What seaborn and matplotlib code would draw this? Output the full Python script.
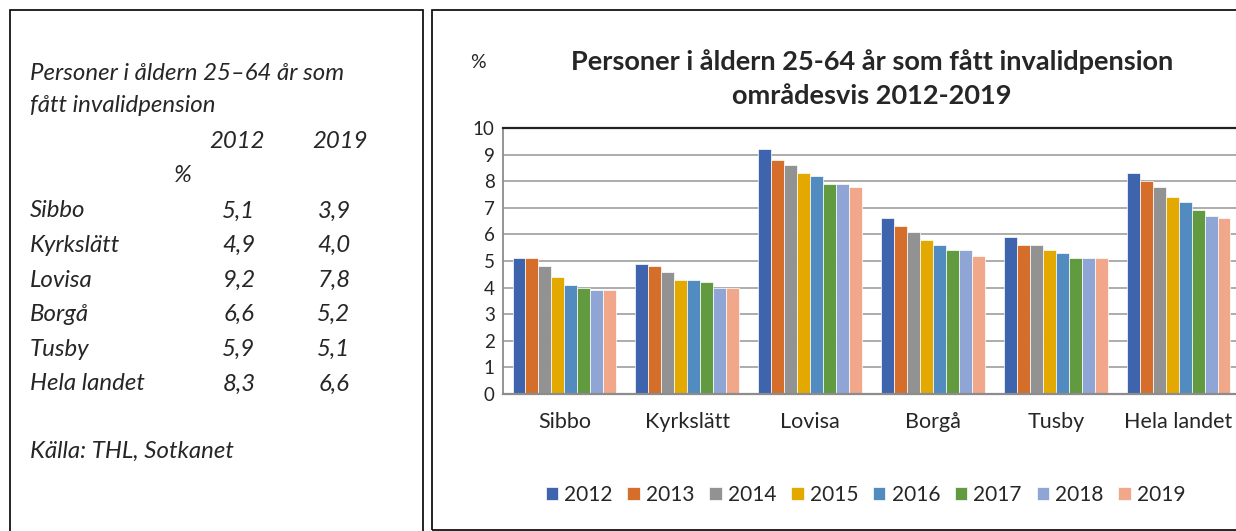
import numpy as np
import pandas as pd
import matplotlib
matplotlib.use("Agg")
import matplotlib.pyplot as plt
import seaborn as sns
from matplotlib.patches import Rectangle

# data
areas = ["Sibbo", "Kyrkslätt", "Lovisa", "Borgå", "Tusby", "Hela landet"]
years = ["2012", "2013", "2014", "2015", "2016", "2017", "2018", "2019"]
sibbo = [5.1, 5.1, 4.8, 4.4, 4.1, 4.0, 3.9, 3.9]
kyrkslatt = [4.9, 4.8, 4.6, 4.3, 4.3, 4.2, 4.0, 4.0]
lovisa = [9.2, 8.8, 8.6, 8.3, 8.2, 7.9, 7.9, 7.8]
borga = [6.6, 6.3, 6.1, 5.8, 5.6, 5.4, 5.4, 5.2]
tusby = [5.9, 5.6, 5.6, 5.4, 5.3, 5.1, 5.1, 5.1]
hela = [8.3, 8.0, 7.8, 7.4, 7.2, 6.9, 6.7, 6.6]
colors = ["#3E64AD", "#D46E2A", "#929292", "#E3A900", "#518BC0", "#629A40", "#8FA5D6", "#F0A78A"]

# table on the left (2012 and 2019 values)
tab_2012 = ["5,1", "4,9", "9,2", "6,6", "5,9", "8,3"]
tab_2019 = ["3,9", "4,0", "7,8", "5,2", "5,1", "6,6"]

rows = []
for area, vals in zip(areas, [sibbo, kyrkslatt, lovisa, borga, tusby, hela]):
    for y, v in zip(years, vals):
        rows.append({"area": area, "year": y, "value": v})
df = pd.DataFrame(rows)

sns.set_style("white")
plt.rcParams["font.family"] = ["Lato", "DejaVu Sans"]

W, H = 1236, 531
fig = plt.figure(figsize=(W / 100, H / 100), dpi=100)

# frames around the two panels
fig.patches.append(Rectangle((10 / W, -0.01), 413 / W, 1 - 10 / H + 0.01, transform=fig.transFigure,
                             fill=False, edgecolor="black", linewidth=1.2))
fig.patches.append(Rectangle((432 / W, 0.002), 810 / W, 1 - 10 / H - 0.002, transform=fig.transFigure,
                             fill=False, edgecolor="black", linewidth=1.2))

ax = fig.add_axes([503 / W, 1 - 394 / H, 737 / W, 266 / H])
sns.barplot(data=df, x="area", y="value", hue="year", palette=colors, width=0.845,
            saturation=1, edgecolor="white", linewidth=0.5, ax=ax, legend=True)
ax.set_ylim(0, 10)
ax.set_yticks(range(0, 11))
ax.set_xlim(-0.5, 5.5)
ax.yaxis.grid(True, color="#a6a6a6", linewidth=1.3)
ax.set_axisbelow(True)
ax.set_xlabel("")
ax.set_ylabel("")
ax.spines["right"].set_visible(False)
ax.spines["top"].set_color("#222222")
ax.spines["top"].set_linewidth(1.6)
ax.spines["left"].set_color("#8c8c8c")
ax.spines["bottom"].set_color("#8c8c8c")
ax.spines["left"].set_linewidth(1.3)
ax.spines["bottom"].set_linewidth(1.6)
ax.tick_params(axis="y", labelsize=13.5, length=0, pad=6)
ax.tick_params(axis="x", labelsize=15.5, length=0, pad=13)
ax.set_xticks(np.arange(-0.5, 6, 1), minor=True)
ax.tick_params(axis="x", which="minor", length=6, color="#8c8c8c", width=1.3)

ax.legend(loc="upper center", bbox_to_anchor=(0.5 - 6 / 737, -0.27), ncol=8, frameon=False,
          fontsize=15, handlelength=0.6, handleheight=0.6, handletextpad=0.3, columnspacing=0.7)

fig.text(872 / W, 1 - 79 / H, "Personer i åldern 25-64 år som fått invalidpension\nområdesvis 2012-2019",
         ha="center", va="center", fontsize=19.5, fontweight="bold", linespacing=1.5)
fig.text(478 / W, 1 - 62 / H, "%", ha="center", va="center", fontsize=14)

# left text panel
kw = dict(fontsize=17.3, style="italic", va="center")
fig.text(30 / W, 1 - 74 / H, "Personer i åldern 25–64 år som", **kw)
fig.text(30 / W, 1 - 106 / H, "fått invalidpension", **kw)
fig.text(237 / W, 1 - 141 / H, "2012", ha="center", **kw)
fig.text(340 / W, 1 - 141 / H, "2019", ha="center", **kw)
fig.text(183 / W, 1 - 176 / H, "%", ha="center", **kw)
for i, (a, v1, v2) in enumerate(zip(areas, tab_2012, tab_2019)):
    y = 211 + i * 34.6
    fig.text(30 / W, 1 - y / H, a, **kw)
    fig.text(239 / W, 1 - y / H, v1, ha="center", **kw)
    fig.text(334 / W, 1 - y / H, v2, ha="center", **kw)
fig.text(30 / W, 1 - 451 / H, "Källa: THL, Sotkanet", **kw)

fig.savefig("out.png", dpi=100)
